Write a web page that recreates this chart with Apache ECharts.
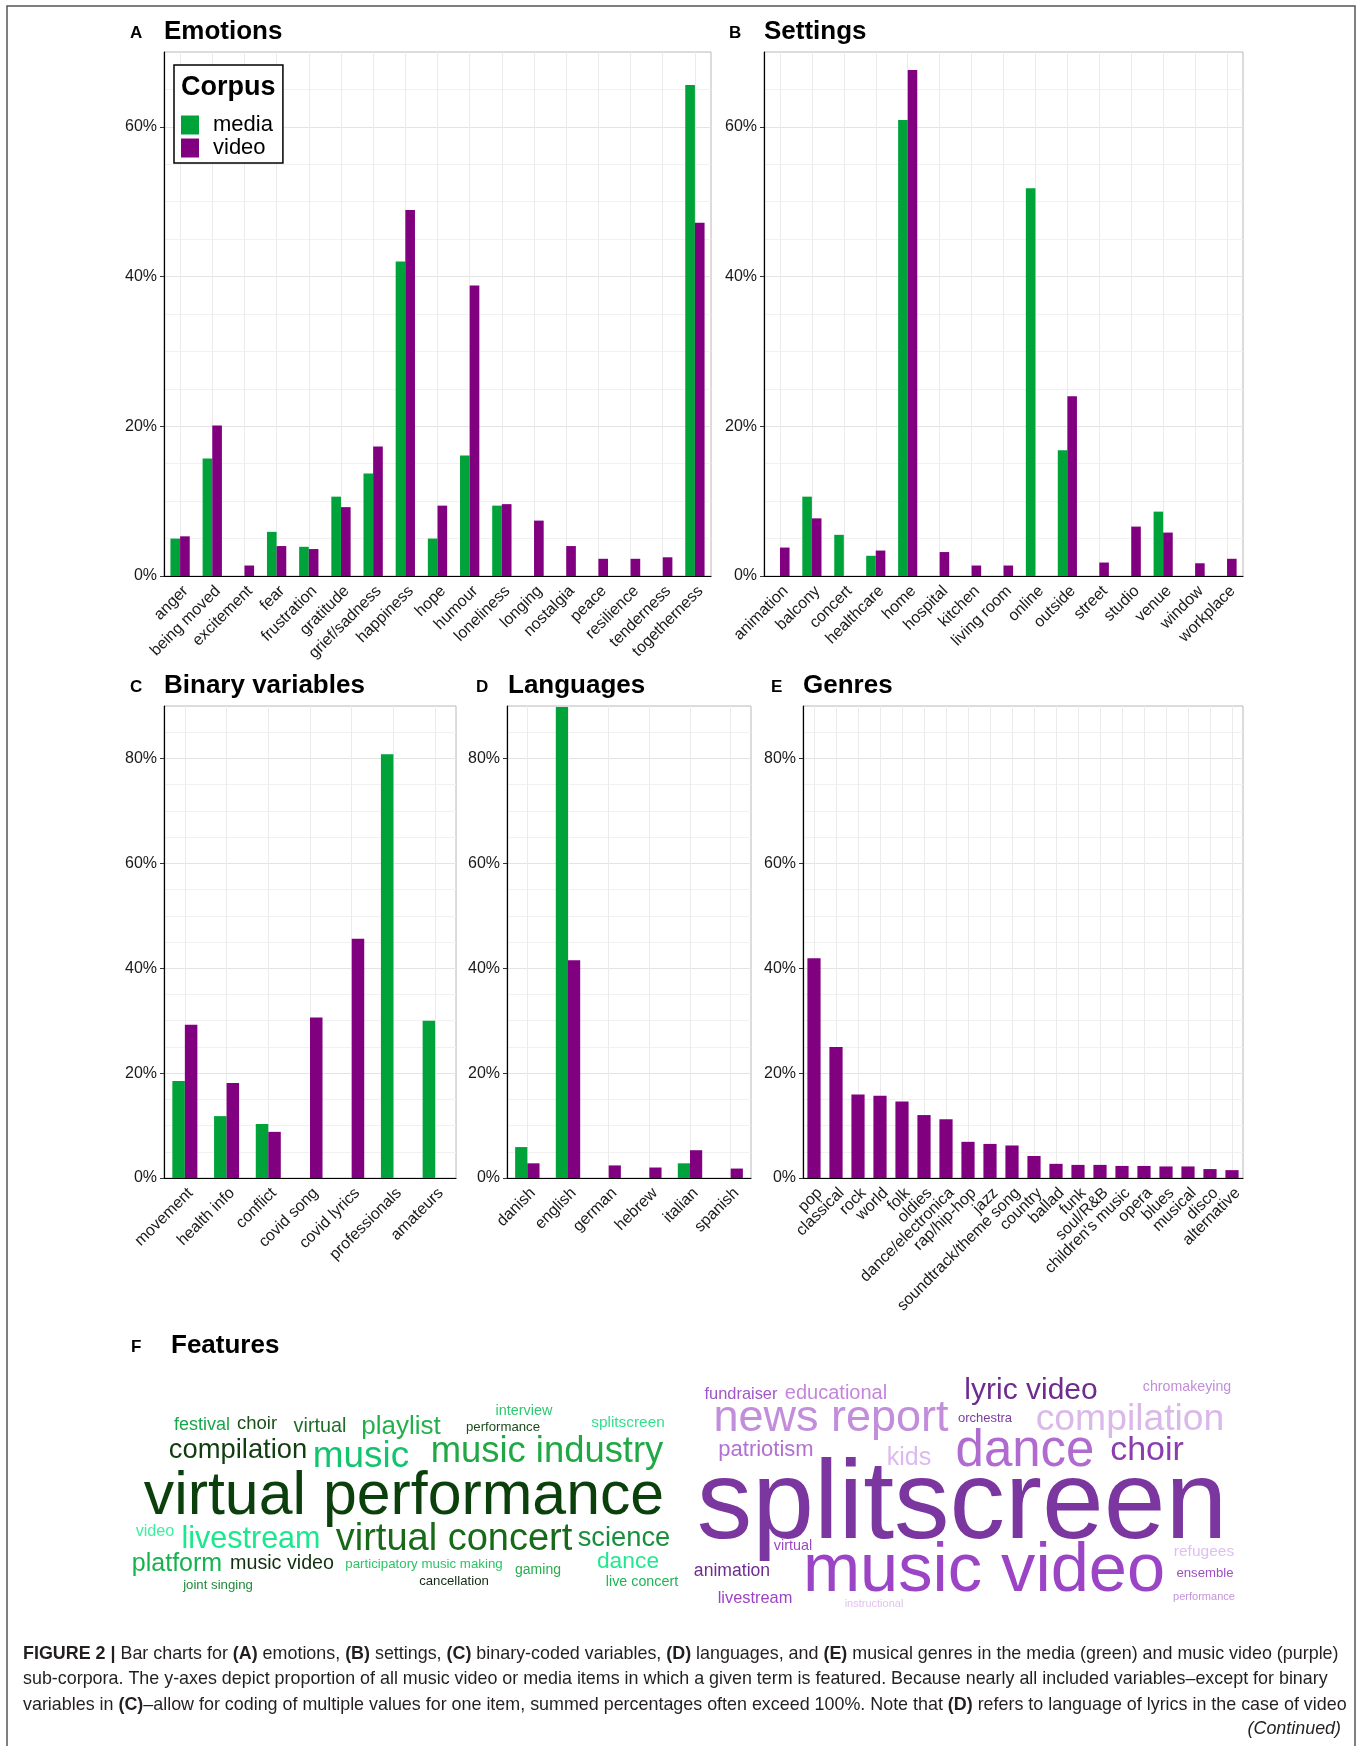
<!DOCTYPE html>
<html>
<head>
<meta charset="utf-8">
<title>Figure 2</title>
<script src="https://cdn.jsdelivr.net/npm/echarts@6/dist/echarts.min.js"></script>
<style>
  html, body { margin: 0; padding: 0; background: #fff; }
  #main { width: 1363px; height: 1746px; }
</style>
</head>
<body>
<div id="main"></div>
<script>
// ---- data (percent of items) ----
var emotionCats = ['anger', 'being moved', 'excitement', 'fear', 'frustration', 'gratitude', 'grief/sadness', 'happiness', 'hope', 'humour', 'loneliness', 'longing', 'nostalgia', 'peace', 'resilience', 'tenderness', 'togetherness'];
var emotionMedia = [5.0, 15.7, null, 5.9, 3.9, 10.6, 13.7, 42.0, 5.0, 16.1, 9.4, null, null, null, null, null, 65.6];
var emotionVideo = [5.3, 20.1, 1.4, 4.0, 3.6, 9.2, 17.3, 48.9, 9.4, 38.8, 9.6, 7.4, 4.0, 2.3, 2.3, 2.5, 47.2];

var settingCats = ['animation', 'balcony', 'concert', 'healthcare', 'home', 'hospital', 'kitchen', 'living room', 'online', 'outside', 'street', 'studio', 'venue', 'window', 'workplace'];
var settingMedia = [null, 10.6, 5.5, 2.7, 60.9, null, null, null, 51.8, 16.8, null, null, 8.6, null, null];
var settingVideo = [3.8, 7.7, null, 3.4, 67.6, 3.2, 1.4, 1.4, null, 24.0, 1.8, 6.6, 5.8, 1.7, 2.3];

var binaryCats = ['movement', 'health info', 'conflict', 'covid song', 'covid lyrics', 'professionals', 'amateurs'];
var binaryMedia = [18.5, 11.8, 10.3, null, null, 80.8, 30.0];
var binaryVideo = [29.2, 18.1, 8.8, 30.6, 45.6, null, null];

var languageCats = ['danish', 'english', 'german', 'hebrew', 'italian', 'spanish'];
var languageMedia = [5.9, 89.8, null, null, 2.8, null];
var languageVideo = [2.8, 41.5, 2.4, 2.0, 5.3, 1.8];

var genreCats = ['pop', 'classical', 'rock', 'world', 'folk', 'oldies', 'dance/electronica', 'rap/hip-hop', 'jazz', 'soundtrack/theme song', 'country', 'ballad', 'funk', 'soul/R&B', "children's music", 'opera', 'blues', 'musical', 'disco', 'alternative'];
var genreVideo = [41.9, 25.0, 15.9, 15.7, 14.6, 12.0, 11.2, 6.9, 6.5, 6.2, 4.2, 2.7, 2.5, 2.5, 2.3, 2.3, 2.2, 2.2, 1.7, 1.5];

var ticksTop = [0, 20, 40, 60];
var ticksBottom = [0, 20, 40, 60, 80];

// word clouds: words and relative weight
var mediaWords = ['interview', 'festival', 'choir', 'virtual', 'playlist', 'performance', 'splitscreen', 'compilation', 'music', 'music industry', 'virtual performance', 'video', 'livestream', 'virtual concert', 'science', 'platform', 'music video', 'participatory music making', 'gaming', 'dance', 'joint singing', 'cancellation', 'live concert'];
var mediaWeights = [14.4, 18, 18.5, 19.8, 26, 13.2, 15.4, 27.4, 36.9, 36.4, 60.8, 16.2, 30.5, 38, 27.3, 25, 19.7, 13.3, 14, 22.8, 13.2, 13.2, 14.3];
var videoWords = ['fundraiser', 'educational', 'lyric video', 'chromakeying', 'news report', 'orchestra', 'compilation', 'patriotism', 'kids', 'dance', 'choir', 'splitscreen', 'virtual', 'music video', 'refugees', 'animation', 'ensemble', 'livestream', 'instructional', 'performance'];
var videoWeights = [16.4, 20, 30, 14.2, 45, 13, 37.3, 22, 25, 51, 34, 111, 14.4, 68.6, 15.5, 17.6, 13.2, 16.4, 11, 11];

// word cloud styling / layout
var mediaColors = ['#2ec870', '#1aa64a', '#1a4f1a', '#1d6e2a', '#22b04c', '#1c4a1c', '#33e08c', '#113d11', '#12c46e', '#1fa843', '#0b3f0b', '#3cf0a0', '#1ae88c', '#176a17', '#188f3b', '#16b24e', '#0f2f0f', '#2dc466', '#2aad4d', '#20e890', '#208a3a', '#132b13', '#1db554'];
var mediaLayout = [[524, 1411], [202, 1425], [257, 1424], [320, 1427], [401, 1427], [503, 1427], [628, 1423], [238, 1450], [361, 1457], [547, 1452], [404, 1497], [155, 1532], [251, 1540], [454, 1540], [624, 1538], [177, 1564], [282, 1564], [424, 1564], [538, 1570], [628, 1562], [218, 1585], [454, 1581], [642, 1582]];
var videoColors = ['#a055c8', '#c585dc', '#6e2c8e', '#c28ddb', '#c28ddb', '#7d3aa3', '#dbb8ea', '#b270d2', '#dcbaf0', '#b06ad0', '#8c3cae', '#7b36a0', '#9c48c2', '#9b45c6', '#dec0f0', '#6f2c90', '#9d4fc4', '#9d43c4', '#e0c4f0', '#c792dc'];
var videoLayout = [[741, 1394], [836, 1393], [1031, 1391], [1187, 1387], [831, 1419], [985, 1418], [1130, 1420], [766, 1450], [909, 1458], [1025, 1452], [1147, 1451], [962, 1507], [793, 1546], [984, 1572], [1204, 1552], [732, 1571], [1205, 1573], [755, 1598], [874, 1604], [1204, 1597]];

var GREEN = '#00a339';
var PURPLE = '#800080';
var FONT = '"Liberation Sans", Arial, sans-serif';

var chart = echarts.init(document.getElementById('main'), null, { renderer: 'canvas' });

var grids = [
  { left: 164, top: 52, width: 547, height: 524 },
  { left: 764, top: 52, width: 479, height: 524 },
  { left: 164, top: 706, width: 292, height: 472 },
  { left: 507, top: 706, width: 244, height: 472 },
  { left: 803, top: 706, width: 440, height: 472 }
];

function catAxis(i, cats) {
  return {
    type: 'category', gridIndex: i, data: cats, boundaryGap: true,
    axisLine: { lineStyle: { color: '#000', width: 1.2 } },
    axisTick: { alignWithLabel: true, length: 4, lineStyle: { color: '#333' } },
    axisLabel: { interval: 0, rotate: 45, verticalAlign: 'top', fontSize: 16, color: '#1a1a1a', fontFamily: FONT, margin: 7 },
    splitLine: { show: true, alignWithLabel: true, lineStyle: { color: '#ebebeb', width: 1 } }
  };
}

function valAxis(i, max, ticks) {
  return {
    type: 'value', gridIndex: i, min: 0, max: max, interval: 20,
    axisLine: { show: true, lineStyle: { color: '#000', width: 1.2 } },
    axisTick: { show: true, length: 4, customValues: ticks, lineStyle: { color: '#333' } },
    axisLabel: { customValues: ticks, fontSize: 16, color: '#1a1a1a', fontFamily: FONT, margin: 7,
      formatter: function (v) { return v % 20 === 0 ? v + '%' : ''; } },
    splitLine: { lineStyle: { color: '#e4e4e4', width: 1.2 } },
    minorTick: { show: false, splitNumber: 4 },
    minorSplitLine: { show: true, lineStyle: { color: '#f1f1f1', width: 1 } }
  };
}

function barSeries(name, i, data, color, width) {
  return {
    type: 'bar', name: name, xAxisIndex: i, yAxisIndex: i, data: data,
    barWidth: width, barGap: '0%', itemStyle: { color: color }, silent: true
  };
}

function cloudData(words, weights, colors, layout) {
  return words.map(function (w, k) {
    return { name: w, value: layout[k], label: { fontSize: weights[k], color: colors[k] } };
  });
}

function cloudSeries(name, data) {
  return {
    type: 'scatter', name: name, xAxisIndex: 5, yAxisIndex: 5, silent: true,
    symbol: 'circle', symbolSize: 1, itemStyle: { color: 'rgba(0,0,0,0)', opacity: 1 },
    label: { show: true, position: 'inside', formatter: '{b}', fontFamily: FONT, align: 'center', verticalAlign: 'middle' },
    data: data
  };
}

var panelTitles = [
  ['A', 'Emotions', 130, 164, 32],
  ['B', 'Settings', 729, 764, 32],
  ['C', 'Binary variables', 130, 164, 686],
  ['D', 'Languages', 476, 508, 686],
  ['E', 'Genres', 771, 803, 686],
  ['F', 'Features', 131, 171, 1346]
];

var graphics = [
  { type: 'rect', shape: { x: 7, y: 6, width: 1348, height: 1780 }, style: { fill: 'none', stroke: '#555', lineWidth: 1.5 }, z: 0, silent: true },
  { type: 'text', x: 181, y: 88, z: 10, silent: true,
    style: { text: 'Corpus', fontSize: 27, fontWeight: 'bold', fontFamily: FONT, fill: '#000', verticalAlign: 'middle' } }
];
panelTitles.forEach(function (t) {
  graphics.push({ type: 'text', x: t[2], y: t[4] + 1, silent: true,
    style: { text: t[0], fontSize: 17, fontWeight: 'bold', fontFamily: FONT, fill: '#000', verticalAlign: 'middle' } });
  graphics.push({ type: 'text', x: t[3], y: t[4], silent: true,
    style: { text: t[1], fontSize: 26, fontWeight: 'bold', fontFamily: FONT, fill: '#000', verticalAlign: 'middle' } });
});

var captionLines = [
  '{b|FIGURE 2 |} Bar charts for {b|(A)} emotions, {b|(B)} settings, {b|(C)} binary-coded variables, {b|(D)} languages, and {b|(E)} musical genres in the media (green) and music video (purple)',
  'sub-corpora. The y-axes depict proportion of all music video or media items in which a given term is featured. Because nearly all included variables\u2013except for binary',
  'variables in {b|(C)}\u2013allow for coding of multiple values for one item, summed percentages often exceed 100%. Note that {b|(D)} refers to language of lyrics in the case of video'
];
var CAP = 17.9;
captionLines.forEach(function (line, k) {
  graphics.push({ type: 'text', x: 23, y: 1654 + k * 25.5, silent: true,
    style: { text: line, fontSize: CAP, fontFamily: FONT, fill: '#231f20', verticalAlign: 'middle',
      rich: { b: { fontWeight: 'bold', fontSize: CAP, fontFamily: FONT, fill: '#231f20' } } } });
});
graphics.push({ type: 'text', x: 1341, y: 1729, silent: true,
  style: { text: '(Continued)', fontSize: CAP, fontStyle: 'italic', fontFamily: FONT, fill: '#231f20', align: 'right', verticalAlign: 'middle' } });

var gridOpts = grids.map(function (g) {
  return { left: g.left, top: g.top, width: g.width, height: g.height, containLabel: false,
    show: true, borderColor: '#b8b8b8', borderWidth: 1, backgroundColor: 'transparent' };
});
gridOpts.push({ left: 0, top: 0, width: 1363, height: 1746, show: false });

var option = {
  animation: false,
  backgroundColor: '#fff',
  textStyle: { fontFamily: FONT },
  grid: gridOpts,
  xAxis: [
    catAxis(0, emotionCats), catAxis(1, settingCats), catAxis(2, binaryCats),
    catAxis(3, languageCats), catAxis(4, genreCats),
    { type: 'value', gridIndex: 5, min: 0, max: 1363, show: false }
  ],
  yAxis: [
    valAxis(0, 70, ticksTop), valAxis(1, 70, ticksTop), valAxis(2, 90, ticksBottom),
    valAxis(3, 90, ticksBottom), valAxis(4, 90, ticksBottom),
    { type: 'value', gridIndex: 5, min: 0, max: 1746, inverse: true, show: false }
  ],
  legend: {
    data: ['media', 'video'],
    orient: 'vertical', left: 174, top: 65,
    padding: [49, 10, 4, 7],
    itemWidth: 18, itemHeight: 19, itemGap: 1,
    icon: 'rect', selectedMode: false,
    borderColor: '#000', borderWidth: 1.5, backgroundColor: '#fff',
    textStyle: { fontSize: 22, color: '#000', fontFamily: FONT, lineHeight: 19, padding: [0, 0, 0, 9] }
  },
  series: [
    barSeries('media', 0, emotionMedia, GREEN, '30%'),
    barSeries('video', 0, emotionVideo, PURPLE, '30%'),
    barSeries('media', 1, settingMedia, GREEN, '30%'),
    barSeries('video', 1, settingVideo, PURPLE, '30%'),
    barSeries('media', 2, binaryMedia, GREEN, '30%'),
    barSeries('video', 2, binaryVideo, PURPLE, '30%'),
    barSeries('media', 3, languageMedia, GREEN, '30%'),
    barSeries('video', 3, languageVideo, PURPLE, '30%'),
    barSeries('video', 4, genreVideo, PURPLE, '60%'),
    cloudSeries('media words', cloudData(mediaWords, mediaWeights, mediaColors, mediaLayout)),
    cloudSeries('video words', cloudData(videoWords, videoWeights, videoColors, videoLayout))
  ],
  graphic: graphics
};

chart.setOption(option);
</script>
</body>
</html>
